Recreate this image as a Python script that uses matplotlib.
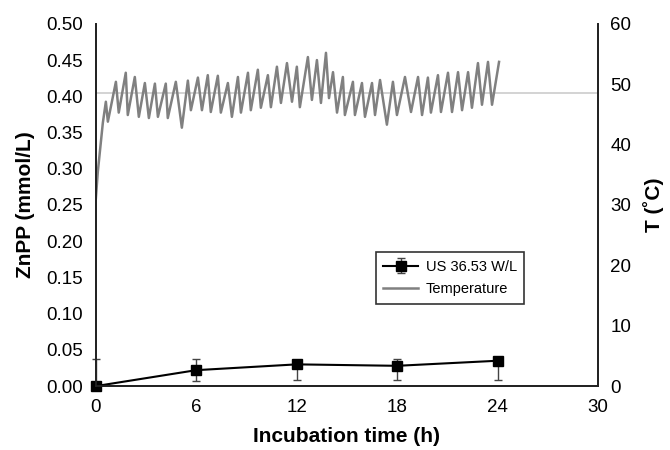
import matplotlib.pyplot as plt

plt.rcParams['font.family'] = ['Liberation Sans', 'DejaVu Sans']

# ZnPP formation under ultrasound
time_h = [0, 6, 12, 18, 24]
znpp = [0.000, 0.022, 0.030, 0.028, 0.035]
err_low = [0.000, 0.015, 0.022, 0.019, 0.026]
err_high = [0.038, 0.015, 0.004, 0.009, 0.004]

# temperature log (h, deg C)
temp_t = [0.00, 0.12, 0.42, 0.60, 0.72, 1.20, 1.37, 1.79, 1.91, 2.33, 2.57,
          2.93, 3.17, 3.53, 3.71, 4.18, 4.30, 4.78, 5.14, 5.50, 5.68, 6.10,
          6.34, 6.69, 6.87, 7.29, 7.47, 7.89, 8.13, 8.49, 8.67, 9.09, 9.26,
          9.68, 9.86, 10.28, 10.46, 10.82, 11.06, 11.42, 11.72, 12.01, 12.19,
          12.67, 12.91, 13.21, 13.45, 13.75, 13.93, 14.17, 14.41, 14.76, 14.88,
          15.36, 15.48, 15.90, 16.08, 16.50, 16.68, 16.98, 17.39, 17.75, 17.99,
          18.47, 18.83, 19.25, 19.49, 19.84, 20.02, 20.44, 20.62, 21.04, 21.28,
          21.64, 21.88, 22.24, 22.47, 22.83, 23.07, 23.43, 23.67, 24.09]
temp_c = [31.0, 35.5, 43.6, 47.1, 43.8, 50.4, 45.3, 51.9, 44.9, 51.2, 44.6,
          50.2, 44.4, 50.1, 44.6, 50.1, 44.4, 50.4, 42.8, 50.6, 45.7, 51.1,
          45.7, 51.5, 45.4, 51.4, 45.3, 50.2, 44.6, 51.2, 45.3, 51.9, 45.7,
          52.4, 46.1, 51.5, 46.2, 52.9, 46.9, 53.5, 47.1, 52.9, 46.2,
          54.5, 47.4, 54.0, 46.9, 55.2, 47.7, 52.0, 45.3, 51.2, 44.9,
          50.4, 44.9, 50.2, 44.6, 50.2, 44.9, 50.7, 43.3, 50.4, 44.9,
          51.2, 45.4, 51.2, 44.9, 51.1, 45.3, 51.5, 45.4, 51.9, 45.4,
          52.0, 45.7, 52.0, 46.1, 53.5, 46.6, 53.7, 46.6, 53.7]
ref_temp = 48.6

fig, ax = plt.subplots(figsize=(6.7, 4.5), dpi=100)
fig.subplots_adjust(left=0.143, right=0.8925, bottom=0.142, top=0.947)
ax2 = ax.twinx()

ax2.axhline(ref_temp, color='#cccccc', lw=1.2, zorder=1)
t_line, = ax2.plot(temp_t, temp_c, color='#808080', lw=1.8, zorder=2)

ax.set_zorder(ax2.get_zorder() + 1)
ax.patch.set_visible(False)
us_line = ax.errorbar(time_h, znpp, yerr=[err_low, err_high], color='black',
                      lw=1.5, marker='s', markersize=7.5, ecolor='#444444',
                      elinewidth=1, capsize=3, clip_on=False)

ax.set_xlim(0, 30)
ax.set_ylim(0, 0.5)
ax2.set_ylim(0, 60)
ax.set_xticks([0, 6, 12, 18, 24, 30])
ax.set_yticks([i * 0.05 for i in range(11)])
ax.set_yticklabels([f'{i * 0.05:.2f}' for i in range(11)])
ax2.set_yticks(range(0, 61, 10))

for a in (ax, ax2):
    a.spines['top'].set_visible(False)
    a.tick_params(length=0, labelsize=13.5, pad=9)
    for s in ('left', 'right', 'bottom'):
        a.spines[s].set_linewidth(1.3)
        a.spines[s].set_color('#222222')

ax.set_xlabel('Incubation time (h)', fontsize=15, fontweight='bold', labelpad=8)
ax.set_ylabel('ZnPP (mmol/L)', fontsize=15, fontweight='bold', labelpad=8)
ax2.set_ylabel('T (˚C)', fontsize=15, fontweight='bold', labelpad=8)

leg = ax.legend([us_line, t_line], ['US 36.53 W/L', 'Temperature'],
                loc='upper left', bbox_to_anchor=(0.558, 0.369), fontsize=10.5,
                frameon=True, fancybox=False, edgecolor='black',
                handlelength=2.4, borderpad=0.5, labelspacing=0.6,
                handletextpad=0.5, borderaxespad=0)
leg.get_frame().set_linewidth(1.2)

plt.savefig('out.png', dpi=100)
